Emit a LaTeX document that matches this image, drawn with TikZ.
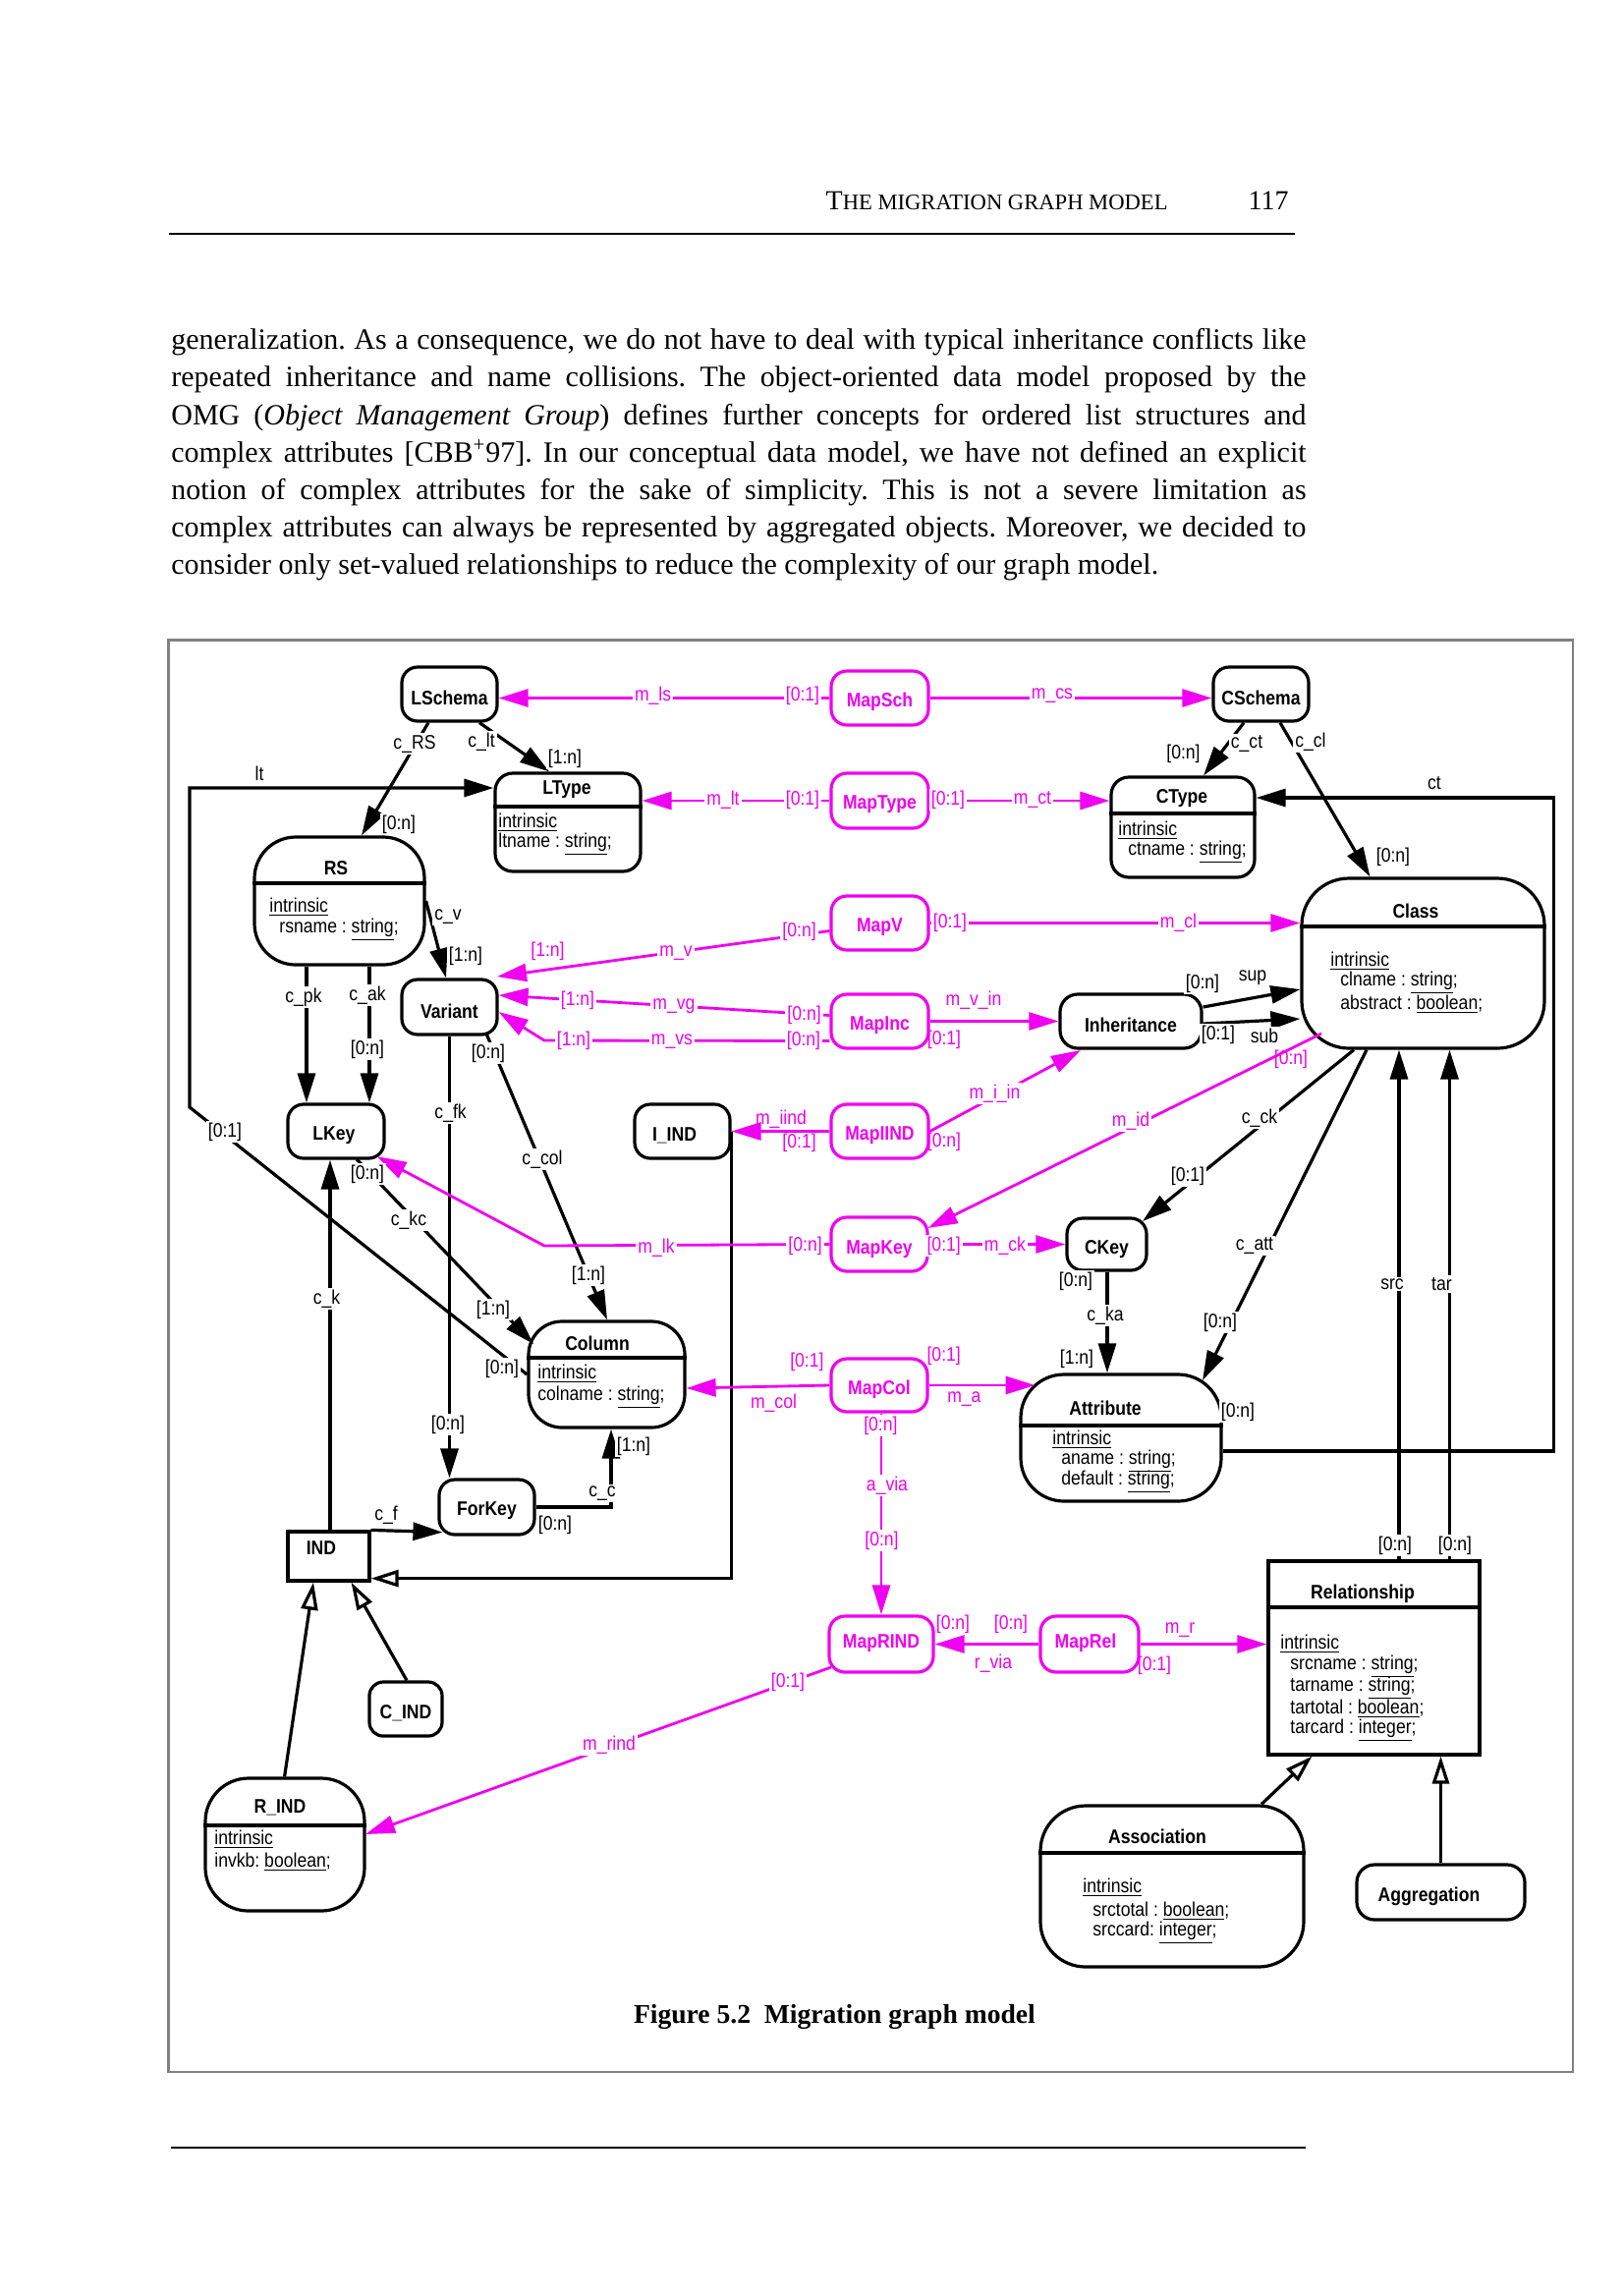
\documentclass[tikz,border=0pt]{standalone}
\usepackage{fontspec}
\setmainfont{Liberation Serif}
\newfontfamily\dfont[FakeStretch=0.88]{Liberation Sans}
\usetikzlibrary{arrows.meta,fit,calc}
\definecolor{mg}{RGB}{240,0,240}
\definecolor{framegray}{RGB}{128,128,128}
\newcommand{\ul}[1]{\underline{#1}}
\frenchspacing
\begin{document}
\begin{tikzpicture}[x=0.5pt,y=-0.5pt,
  box/.style={draw, line width=1.6pt, inner sep=0pt},
  rbox/.style={box, rounded corners=8pt},
  mbox/.style={box, draw=mg, rounded corners=8pt},
  ttl/.style={font=\dfont\bfseries\fontsize{10}{12}\selectfont, inner sep=0pt},
  mttl/.style={ttl, text=mg},
  att/.style={font=\dfont\fontsize{10}{12}\selectfont, inner sep=0pt, anchor=west},
  lab/.style={font=\dfont\fontsize{10}{12}\selectfont, inner sep=1pt, fill=white},
  mlab/.style={lab, text=mg},
  mlabn/.style={font=\dfont\fontsize{10}{12}\selectfont, inner sep=1pt, text=mg},
  conn/.style={line width=1.6pt, black},
  arr/.style={conn, -{Triangle[length=15pt,width=9pt]}},
  oarr/.style={conn, -{Triangle[open,length=14pt,width=8.5pt,fill=white]}},
  mconn/.style={line width=1.4pt, mg},
  marr/.style={mconn, -{Triangle[length=15pt,width=9pt]}},
  divl/.style={line width=1.6pt},
  body/.style={anchor=base west, inner sep=0pt, font=\fontsize{15}{19}\selectfont}
]
\useasboundingbox (0,0) rectangle (1653,2336);
\fill[white] (0,0) rectangle (1653,2336);

% ---------- page header ----------
\node[anchor=base east, inner sep=0pt, font=\fontsize{14}{16}\selectfont] (hdr) at (1189,213)
  {T{\fontsize{11.3}{14}\selectfont HE MIGRATION GRAPH MODEL}};
\node[anchor=base east, inner sep=0pt, font=\fontsize{14}{16}\selectfont] (pgno) at (1312,213) {117};
\draw[line width=0.7pt] (171.5,238) -- (1318,238);

% ---------- body text ----------
\node[body] (b1) at (174,355.7) {\makebox[577.6pt][s]{generalization. As a consequence, we do not have to deal with typical inheritance conflicts like}};
\node[body] (b2) at (174,393.9) {\makebox[577.6pt][s]{repeated inheritance and name collisions. The object-oriented data model proposed by the}};
\node[body] (b3) at (174,432.1) {\makebox[577.6pt][s]{OMG (\textit{Object Management Group}) defines further concepts for ordered list structures and}};
\node[body] (b4) at (174,470.3) {\makebox[577.6pt][s]{complex attributes [CBB\textsuperscript{+}97]. In our conceptual data model, we have not defined an explicit}};
\node[body] (b5) at (174,508.5) {\makebox[577.6pt][s]{notion of complex attributes for the sake of simplicity. This is not a severe limitation as}};
\node[body] (b6) at (174,546.7) {\makebox[577.6pt][s]{complex attributes can always be represented by aggregated objects. Moreover, we decided to}};
\node[body] (b7) at (174,584.9) {consider only set-valued relationships to reduce the complexity of our graph model.};

% ---------- frame ----------
\draw[framegray, line width=1.3pt] (171.7,651.7) rectangle (1601,2109);

% ---------- simple boxes ----------
\node[rbox, fit={(409,679) (506,734)}] (LSchema) {};
\node[ttl] (tLSchema) at ($(LSchema.center)+(0,4)$) {LSchema};
\node[rbox, fit={(409,997) (506,1053)}] (Variant) {};
\node[ttl] (tVariant) at ($(Variant.center)+(0,4)$) {Variant};
\node[rbox, fit={(293,1124) (391,1179)}] (LKey) {};
\node[ttl] (tLKey) at ($(LKey.center)+(-2,4)$) {LKey};
\node[rbox, fit={(646,1124) (743,1179)}] (IIND) {};
\node[ttl] (tIIND) at ($(IIND.center)+(-8,4)$) {I\_IND};
\node[rbox, fit={(447,1506) (544,1562)}] (ForKey) {};
\node[ttl] (tForKey) at ($(ForKey.center)+(0,4)$) {ForKey};
\node[rbox, rounded corners=7pt, fit={(376,1712) (450,1767)}] (CIND) {};
\node[ttl] (tCIND) at ($(CIND.center)+(0,4)$) {C\_IND};
\node[rbox, fit={(1235,679) (1332,734)}] (CSchema) {};
\node[ttl] (tCSchema) at ($(CSchema.center)+(0,4)$) {CSchema};
\node[rbox, rounded corners=9pt, fit={(1079,1012) (1223,1067)}] (Inheritance) {};
\node[ttl] (tInheritance) at ($(Inheritance.center)+(0,4)$) {Inheritance};
\node[rbox, fit={(1086,1240) (1167,1293)}] (CKey) {};
\node[ttl] (tCKey) at ($(CKey.center)+(0,5)$) {CKey};
\node[rbox, rounded corners=9pt, fit={(1381,1898) (1552,1954)}] (Aggregation) {};
\node[ttl] (tAggregation) at ($(Aggregation.center)+(-12,4)$) {Aggregation};
\node[box, fit={(293,1559) (376,1609)}] (IND) {};
\node[ttl] (tIND) at (327,1576) {IND};

% ---------- mapping boxes ----------
\node[mbox, fit={(846,683) (945,738)}] (MapSch) {};
\node[mttl] (tMapSch) at ($(MapSch.center)+(0,4)$) {MapSch};
\node[mbox, fit={(846,787) (945,843)}] (MapType) {};
\node[mttl] (tMapType) at ($(MapType.center)+(0,4)$) {MapType};
\node[mbox, fit={(846,912) (945,967)}] (MapV) {};
\node[mttl] (tMapV) at ($(MapV.center)+(0,4)$) {MapV};
\node[mbox, fit={(846,1012) (945,1067)}] (MapInc) {};
\node[mttl] (tMapInc) at ($(MapInc.center)+(0,4)$) {MapInc};
\node[mbox, fit={(846,1124) (945,1179)}] (MapIIND) {};
\node[mttl] (tMapIIND) at ($(MapIIND.center)+(0,4)$) {MapIIND};
\node[mbox, fit={(846,1239) (944,1294)}] (MapKey) {};
\node[mttl] (tMapKey) at ($(MapKey.center)+(0,5)$) {MapKey};
\node[mbox, fit={(846,1383) (944,1437)}] (MapCol) {};
\node[mttl] (tMapCol) at ($(MapCol.center)+(0,4)$) {MapCol};
\node[mbox, fit={(844,1645) (950,1702)}] (MapRIND) {};
\node[mttl] (tMapRIND) at ($(MapRIND.center)+(0,-1)$) {MapRIND};
\node[mbox, fit={(1059,1645) (1159,1702)}] (MapRel) {};
\node[mttl] (tMapRel) at ($(MapRel.center)+(-4,-1)$) {MapRel};

% ---------- divided boxes ----------
\node[box, rounded corners=9pt, fit={(504,787) (652,887)}] (LType) {};
\draw[divl] (LType.west |- 0,821) -- (LType.east |- 0,821);
\node[ttl] (tLType) at (577,804) {LType};
\node[att] (aLType1) at (507,837) {\ul{intrinsic}};
\node[att] (aLType2) at (507,859) {ltname : \ul{string};};

\node[box, rounded corners=21pt, fit={(259,852) (432,982)}] (RS) {};
\draw[divl] (RS.west |- 0,899) -- (RS.east |- 0,899);
\node[ttl] (tRS) at (342,884) {RS};
\node[att] (aRS1) at (274,923) {\ul{intrinsic}};
\node[att] (aRS2) at (284,946) {rsname : \ul{string};};

\node[box, rounded corners=9pt, fit={(1131,791) (1277,893)}] (CType) {};
\draw[divl] (CType.west |- 0,828) -- (CType.east |- 0,828);
\node[ttl] (tCType) at (1203,813) {CType};
\node[att] (aCType1) at (1138,845) {\ul{intrinsic}};
\node[att] (aCType2) at (1148,867) {ctname : \ul{string};};

\node[box, rounded corners=24pt, fit={(1325,894) (1572,1067)}] (Class) {};
\draw[divl] (Class.west |- 0,943) -- (Class.east |- 0,943);
\node[ttl] (tClass) at (1441,927) {Class};
\node[att] (aClass1) at (1354,978) {\ul{intrinsic}};
\node[att] (aClass2) at (1364,1000) {clname : \ul{string};};
\node[att] (aClass3) at (1364,1022) {abstract : \ul{boolean};};

\node[box, rounded corners=17pt, fit={(538,1345) (697,1453)}] (Column) {};
\draw[divl] (Column.west |- 0,1382) -- (Column.east |- 0,1382);
\node[ttl] (tColumn) at (608,1367) {Column};
\node[att] (aColumn1) at (547,1398) {\ul{intrinsic}};
\node[att] (aColumn2) at (547,1422) {colname : \ul{string};};

\node[box, rounded corners=22pt, fit={(1039,1399) (1243,1528)}] (Attribute) {};
\draw[divl] (Attribute.west |- 0,1451) -- (Attribute.east |- 0,1451);
\node[ttl] (tAttribute) at (1125,1433) {Attribute};
\node[att] (aAttr1) at (1071,1465) {\ul{intrinsic}};
\node[att] (aAttr2) at (1080,1487) {aname : \ul{string};};
\node[att] (aAttr3) at (1080,1508) {default : \ul{string};};

\node[box, rounded corners=22pt, fit={(209,1810) (371,1945)}] (RIND) {};
\draw[divl] (RIND.west |- 0,1858) -- (RIND.east |- 0,1858);
\node[ttl] (tRIND) at (285,1840) {R\_IND};
\node[att] (aRIND1) at (218,1872) {\ul{intrinsic}};
\node[att] (aRIND2) at (218,1895) {invkb: \ul{boolean};};

\node[box, fit={(1291,1589) (1506,1786)}] (Relationship) {};
\draw[divl] (Relationship.west |- 0,1636) -- (Relationship.east |- 0,1636);
\node[ttl] (tRel) at (1387,1622) {Relationship};
\node[att] (aRel1) at (1303,1673) {\ul{intrinsic}};
\node[att] (aRel2) at (1313,1696) {srcname : \ul{string};};
\node[att] (aRel3) at (1313,1718) {tarname : \ul{string};};
\node[att] (aRel4) at (1313,1739) {tartotal : \ul{boolean};};
\node[att] (aRel5) at (1313,1761) {tarcard : \ul{integer};};

\node[box, rounded corners=23pt, fit={(1059,1838) (1327,2002)}] (Association) {};
\draw[divl] (Association.west |- 0,1886) -- (Association.east |- 0,1886);
\node[ttl] (tAssoc) at (1178,1869) {Association};
\node[att] (aAs1) at (1102,1921) {\ul{intrinsic}};
\node[att] (aAs2) at (1112,1945) {srctotal : \ul{boolean};};
\node[att] (aAs3) at (1112,1967) {srccard: \ul{integer};};

% ---------- black connectors ----------
\draw[arr] (436,0 |- LSchema.south) -- (368,0 |- RS.north);
\draw[arr] (488,0 |- LSchema.south) -- (559,0 |- LType.north);
\draw[arr] (Column.west) -- (193,1127) -- (193,802) -- (LType.west |- 0,802);
\draw[arr] (RS.east |- 0,917) -- (454,0 |- Variant.north);
\draw[arr] (312,0 |- RS.south) -- (312,0 |- LKey.north);
\draw[arr] (376,0 |- RS.south) -- (376,0 |- LKey.north);
\draw[arr] (495,1052) -- (618,0 |- Column.north);
\draw[arr] (457.5,0 |- Variant.south) -- (457.5,0 |- ForKey.north);
\draw[arr] (336,0 |- IND.north) -- (336,0 |- LKey.south);
\draw[arr] (363,1180) -- (543,1368);
\draw[arr] (ForKey.east) -| ($(Column.south)+(4.5,0)$);
\draw[arr] (IND.north east) -- ($(ForKey.south west)+(5,-4)$);
\draw[oarr] (IIND.east) |- ($(IND.south east)+(0,-4)$);
\draw[oarr] (414,0 |- CIND.north) -- (357.5,0 |- IND.south);
\draw[oarr] (289.6,0 |- RIND.north) -- (319,0 |- IND.south);
\draw[arr] (1266,0 |- CSchema.south) -- (1225,0 |- CType.north);
\draw[arr] (1303,0 |- CSchema.south) -- (1394.5,0 |- Class.north);
\draw[arr] (Attribute.east |- 0,1477) -- (1581.6,1477) -- (1581.6,812) -- (CType.east |- 0,812);
\draw[arr] (Inheritance.east |- 0,1025) -- (Class.west |- 0,1007);
\draw[arr] (Inheritance.east |- 0,1042) -- (Class.west |- 0,1037);
\draw[arr] (1424,0 |- Relationship.north) -- (1424,0 |- Class.south);
\draw[arr] (1475.5,0 |- Relationship.north) -- (1475.5,0 |- Class.south);
\draw[arr] (1378,0 |- Class.south) -- (1163,1243);
\draw[arr] (1391,0 |- Class.south) -- (1224,1405);
\draw[arr] (1127,0 |- CKey.south) -- (1127,0 |- Attribute.north);
\draw[oarr] (1284,0 |- Association.north) -- (1335.5,0 |- Relationship.south);
\draw[oarr] (1466.5,0 |- Aggregation.north) -- (1466.5,0 |- Relationship.south);

% ---------- magenta connectors ----------
\draw[marr] (MapSch.west) -- (LSchema.east |- MapSch.west);
\draw[marr] (MapSch.east) -- (CSchema.west |- MapSch.east);
\draw[marr] (MapType.west) -- (LType.east |- MapType.west);
\draw[marr] (MapType.east) -- (CType.west |- MapType.east);
\draw[marr] ($(MapV.west)+(0,8)$) -- (506,994);
\draw[marr] (MapV.east) -- (Class.west |- MapV.east);
\draw[marr] ($(MapInc.west)+(0,-6)$) -- (Variant.east |- 0,1013);
\draw[marr] ($(MapInc.west)+(0,20)$) -- (554,1059) -- (Variant.east |- 0,1030);
\draw[marr] (MapInc.east) -- (Inheritance.west);
\draw[marr] (MapIIND.east) -- (1100,1069);
\draw[marr] (MapIIND.west) -- (IIND.east);
\draw[marr] (1345,1052) -- (944.6,1250);
\draw[marr] (MapKey.west) -- (554,1268) -- (383.6,1177);
\draw[marr] (MapKey.east) -- (CKey.west);
\draw[marr] (MapCol.west) -- ($(Column.east)+(0,14)$);
\draw[marr] (MapCol.east) -- (1053.6,1410);
\draw[marr] (897,0 |- MapCol.south) -- (897,0 |- MapRIND.north);
\draw[marr] (MapRel.west) -- (MapRIND.east);
\draw[marr] (MapRel.east) -- (Relationship.west |- MapRel.east);
\draw[marr] (846,1697) -- (372,1867);

% ---------- black labels ----------
\node[lab] (l1) at (422,757) {c\_RS};
\node[lab] (l2) at (490,755) {c\_lt};
\node[lab] (l3) at (406,839) {[0:n]};
\node[lab] (l4) at (575,772) {[1:n]};
\node[lab] (l5) at (264,787) {lt};
\node[lab] (l6) at (229,1152) {[0:1]};
\node[lab] (l7) at (511,1393) {[0:n]};
\node[lab] (l8) at (456,933) {c\_v};
\node[lab] (l9) at (474,973) {[1:n]};
\node[lab] (l10) at (309,1015) {c\_pk};
\node[lab] (l11) at (374,1013) {c\_ak};
\node[lab] (l12) at (374,1068) {[0:n]};
\node[lab] (l13) at (497,1072) {[0:n]};
\node[lab] (l14) at (552,1180) {c\_col};
\node[lab] (l15) at (599,1298) {[1:n]};
\node[lab] (l16) at (458.6,1133) {c\_fk};
\node[lab] (l17) at (456,1450) {[0:n]};
\node[lab] (l18) at (332.5,1322) {c\_k};
\node[lab] (l19) at (374,1195) {[0:n]};
\node[lab] (l20) at (416,1242) {c\_kc};
\node[lab] (l21) at (502,1333) {[1:n]};
\node[lab] (l22) at (613,1520) {c\_c};
\node[lab] (l23) at (645,1472) {[1:n]};
\node[lab] (l24) at (565,1552) {[0:n]};
\node[lab] (l25) at (393,1542) {c\_f};
\node[lab] (l26) at (1269,757) {c\_ct};
\node[lab] (l27) at (1204.5,767) {[0:n]};
\node[lab] (l28) at (1334,755) {c\_cl};
\node[lab] (l29) at (1418,872) {[0:n]};
\node[lab] (l30) at (1460,797) {ct};
\node[lab] (l31) at (1275,995) {sup};
\node[lab] (l32) at (1224,1001) {[0:n]};
\node[lab] (l33) at (1287,1054) {sub};
\node[lab] (l34) at (1240,1053) {[0:1]};
\node[lab] (l35) at (1417,1307) {src};
\node[lab] (l36) at (1420,1573) {[0:n]};
\node[lab] (l37) at (1467.5,1307) {tar};
\node[lab] (l38) at (1481,1573) {[0:n]};
\node[lab] (l39) at (1282,1138) {c\_ck};
\node[lab] (l40) at (1209,1197) {[0:1]};
\node[lab] (l41) at (1277,1268) {c\_att};
\node[lab] (l42) at (1242,1346) {[0:n]};
\node[lab] (l43) at (1260,1437) {[0:n]};
\node[lab] (l44) at (1125,1339) {c\_ka};
\node[lab] (l45) at (1095,1304) {[0:n]};
\node[lab] (l46) at (1096,1383) {[1:n]};

% ---------- magenta labels ----------
\node[mlab] (k1) at (664.6,708) {m\_ls};
\node[mlab] (k2) at (817,708) {[0:1]};
\node[mlab] (k3) at (1071,708) {m\_cs};
\node[mlab] (k4) at (736,814) {m\_lt};
\node[mlab] (k5) at (817,814) {[0:1]};
\node[mlab] (k6) at (965,814) {[0:1]};
\node[mlab] (k7) at (1051,814) {m\_ct};
\node[mlab] (k8) at (813.6,948) {[0:n]};
\node[mlab] (k9) at (688,970) {m\_v};
\node[mlab] (k10) at (557.5,968) {[1:n]};
\node[mlab] (k11) at (967,939) {[0:1]};
\node[mlab] (k12) at (1199.5,939) {m\_cl};
\node[mlab] (k13) at (818.6,1033) {[0:n]};
\node[mlab] (k14) at (686,1024) {m\_vg};
\node[mlab] (k15) at (588,1018) {[1:n]};
\node[mlab] (k16) at (818,1059) {[0:n]};
\node[mlab] (k17) at (684,1060) {m\_vs};
\node[mlab] (k18) at (584,1059) {[1:n]};
\node[mlabn] (k19) at (991,1018) {m\_v\_in};
\node[mlabn] (k20) at (961,1058) {[0:1]};
\node[mlab] (k21) at (1012.5,1113) {m\_i\_in};
\node[mlabn] (k22) at (961,1162) {[0:n]};
\node[mlabn] (k23) at (795,1139) {m\_iind};
\node[mlabn] (k24) at (813.6,1163) {[0:1]};
\node[mlab] (k25) at (1151,1141) {m\_id};
\node[mlabn] (k26) at (1314,1078) {[0:n]};
\node[mlab] (k27) at (819.6,1268) {[0:n]};
\node[mlab] (k28) at (668,1270) {m\_lk};
\node[mlab] (k29) at (960.7,1268) {[0:1]};
\node[mlab] (k30) at (1023,1268) {m\_ck};
\node[mlabn] (k31) at (821.4,1386) {[0:1]};
\node[mlabn] (k32) at (787.5,1428) {m\_col};
\node[mlabn] (k33) at (960.7,1380) {[0:1]};
\node[mlabn] (k34) at (981.4,1424) {m\_a};
\node[mlab] (k35) at (896.4,1451) {[0:n]};
\node[mlab] (k36) at (903,1512) {a\_via};
\node[mlab] (k37) at (897.5,1568) {[0:n]};
\node[mlabn] (k38) at (970,1653) {[0:n]};
\node[mlabn] (k39) at (1029,1653) {[0:n]};
\node[mlabn] (k40) at (1011,1693) {r\_via};
\node[mlabn] (k41) at (1201,1659) {m\_r};
\node[mlabn] (k42) at (1175,1695) {[0:1]};
\node[mlab] (k43) at (802,1712) {[0:1]};
\node[mlab] (k44) at (620,1776) {m\_rind};

% ---------- caption ----------
\node[anchor=base west, inner sep=0pt, font=\bfseries\fontsize{13.8}{16}\selectfont] (cap) at (644.6,2059)
  {Figure 5.2\hspace{0.5em}Migration graph model};

% ---------- footer rule ----------
\draw[line width=0.7pt] (174,2186) -- (1329,2186);
\end{tikzpicture}
\end{document}
